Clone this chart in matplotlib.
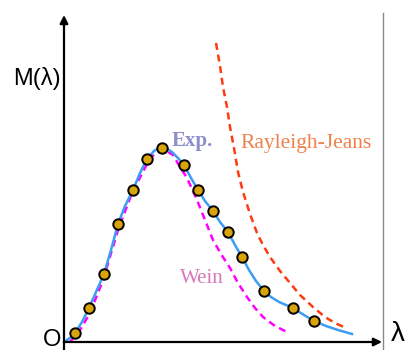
import matplotlib
matplotlib.use("Agg")
import matplotlib.pyplot as plt

# Measured points (arbitrary units: wavelength vs. spectral exitance)
pts_x = [11, 25, 40, 54, 69, 83, 98, 120, 134, 149, 164, 178, 200, 229, 250]
pts_y = [9, 34, 68, 118, 152, 183, 194, 177, 152, 131, 110, 85, 51, 34, 21]

exp_x = [0, 6, 11, 18, 25, 32, 40, 47, 54, 61, 69, 76, 83, 90, 96, 101, 108, 114,
         120, 127, 134, 141, 149, 156, 164, 171, 178, 185, 192, 200, 207, 215,
         229, 240, 250, 262, 274, 288]
exp_y = [0, 4, 9, 20, 34, 50, 68, 92, 118, 136, 152, 169, 183, 191, 194.5, 194.5,
         190, 184, 177, 164, 152, 141, 131, 120, 110, 97, 85, 72, 61, 51, 45, 40,
         34, 27, 21, 16, 12, 8]

# Wien curve
wein_x = [6, 16, 26, 39, 54, 68, 83, 91, 97, 101, 109, 116, 123, 133, 141, 149,
          157, 166, 174, 183, 191, 199, 211, 225]
wein_y = [0, 12, 29, 62, 112, 149, 178, 189, 192, 192, 187, 175, 164, 142, 122,
          102, 88, 74, 59, 45, 34, 25, 16, 9]

# Rayleigh-Jeans curve
rj_x = [152, 156, 159, 163, 166, 170, 174, 179, 186, 193, 199, 206, 216, 226,
        236, 249, 261, 271, 282]
rj_y = [299, 276, 255, 235, 215, 194, 170, 150, 128, 109, 97, 85, 71, 59, 47,
        35, 25, 19, 14]

fig = plt.figure(figsize=(4.06, 3.5), dpi=100)
ax = fig.add_axes([0, 0, 1, 1])
ax.set_xlim(-64, 342)
ax.set_ylim(-8, 342)
ax.axis("off")

# axes with arrows
ax.annotate("", xy=(318, 0), xytext=(0, 0),
            arrowprops=dict(arrowstyle="-|>", lw=1.6, color="black",
                            mutation_scale=12, shrinkA=0, shrinkB=0))
ax.annotate("", xy=(0, 327), xytext=(0, -8),
            arrowprops=dict(arrowstyle="-|>", lw=1.6, color="black",
                            mutation_scale=12, shrinkA=0, shrinkB=0))
ax.plot([319.3, 319.3], [-8, 329], color="#888888", lw=1.0)

ax.plot(rj_x, rj_y, color="#ff3a10", lw=1.8, dashes=(2.8, 1.9))
ax.plot(wein_x, wein_y, color="#ff00ff", lw=1.8, dashes=(2.8, 1.9))
ax.plot(exp_x, exp_y, color="#3d9df2", lw=1.8)
ax.plot(pts_x, pts_y, "o", ms=7.5, mfc="#d9a30a", mec="black", mew=1.4)

ax.text(-3, 264, "M(λ)", ha="right", va="center", fontsize=17,
        family="Liberation Sans")
ax.text(-12, 2, "O", ha="center", va="center", fontsize=17,
        family="Liberation Sans")
ax.text(334, 8, "λ", ha="center", va="center", fontsize=20,
        family="Liberation Sans")
ax.text(108, 196, "Exp.", ha="left", va="baseline", fontsize=15,
        family="Liberation Serif", weight="bold", color="#8c8fcc")
ax.text(176, 194, "Rayleigh-Jeans", ha="left", va="baseline", fontsize=15.5,
        family="Liberation Serif", color="#f0804a")
ax.text(116, 59, "Wein", ha="left", va="baseline", fontsize=15,
        family="Liberation Serif", color="#d678bb")

fig.savefig("out.png", dpi=100)
